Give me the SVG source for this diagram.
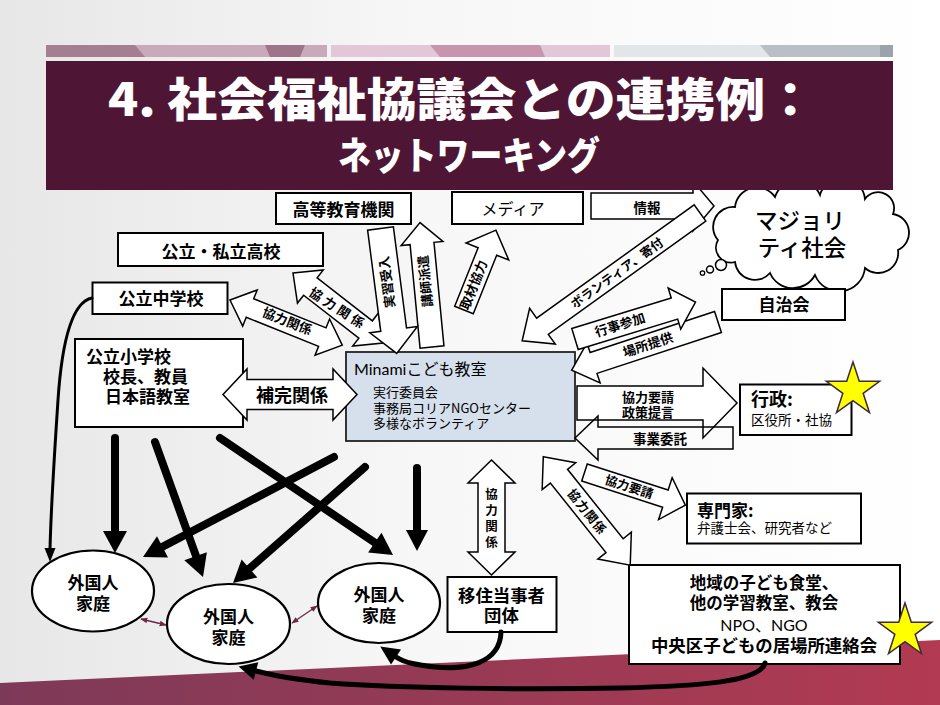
<svg xmlns="http://www.w3.org/2000/svg" width="940" height="705" viewBox="0 0 940 705">
<defs>
<linearGradient id="bg" x1="0" y1="0" x2="1" y2="0">
<stop offset="0" stop-color="#e7e7e7"/><stop offset="0.45" stop-color="#f7f7f7"/><stop offset="1" stop-color="#ffffff"/>
</linearGradient>
<linearGradient id="band" x1="0" y1="0" x2="1" y2="0">
<stop offset="0" stop-color="#7d3a58"/><stop offset="1" stop-color="#b23a52"/>
</linearGradient>
<marker id="sm" viewBox="0 0 10 10" refX="9" refY="5" markerWidth="7" markerHeight="7" markerUnits="userSpaceOnUse" orient="auto-start-reverse">
<path d="M0,1 L10,5 L0,9 z" fill="#6b2744"/>
</marker>
<style>
.t{font-family:"Noto Sans CJK JP","Noto Sans",sans-serif;fill:#000}
.l{font-family:Lato,"Noto Sans CJK JP",sans-serif;fill:#000}
.b{font-weight:bold}
.m{text-anchor:middle}
.box{fill:#fff;stroke:#000;stroke-width:2}
.ba{fill:#fff;stroke:#000;stroke-width:1.5;stroke-linejoin:miter}
.al{font-family:"Noto Sans CJK JP","Noto Sans",sans-serif;font-weight:bold;text-anchor:middle;fill:#000}
.blk line,.blk path{stroke:#000;fill:none;stroke-linecap:round}
.blk polygon{fill:#000}
.sa{stroke:#6b2744;stroke-width:1.3;fill:none}
</style>
</defs>

<g id="background">
<rect width="940" height="705" fill="url(#bg)"/>
<polygon points="0,683 940,640 940,705 0,705" fill="url(#band)"/>
<rect x="46" y="45" width="281" height="12" fill="#c8aab8"/>
<polygon points="46,45 135,45 145,57 46,57" fill="#a47f90"/>
<polygon points="265,45 305,45 300,57 270,57" fill="#9e7489"/>
<rect x="331" y="45" width="279" height="12" fill="#e2c8d6"/>
<polygon points="430,45 540,45 545,57 440,57" fill="#c894ae"/>
<rect x="614" y="45" width="279" height="12" fill="#e3e6e9"/>
<polygon points="760,45 880,45 880,57 770,57" fill="#b8bfc6"/>
<rect x="880" y="45" width="13" height="12" fill="#9aa3ab"/>
</g>

<g id="nodes">
<g id="n-koutou"><rect class="box" x="276" y="193" width="135" height="31"/><text class="t b m" x="343.5" y="216" font-size="17">高等教育機関</text></g>
<g id="n-media"><rect class="box" x="452" y="192" width="131" height="32"/><text class="t m" x="513" y="214.5" font-size="16">メディア</text></g>
<g id="n-koukou"><rect class="box" x="118" y="233" width="205" height="33"/><text class="t b m" x="221" y="257.5" font-size="17">公立・私立高校</text></g>
<g id="n-chuu"><rect class="box" x="92.5" y="282.5" width="135" height="31.5"/><text class="t b m" x="161" y="305" font-size="17">公立中学校</text></g>
<g id="n-shou"><rect class="box" x="75" y="339" width="168" height="88"/>
<text class="t b" font-size="17"><tspan x="86" y="363">公立小学校</tspan><tspan x="103" y="383">校長、教員</tspan><tspan x="105" y="403">日本語教室</tspan></text></g>
<g id="n-minami"><rect x="346" y="352" width="229" height="89" fill="#d6dfec" stroke="#222" stroke-width="1.8"/>
<text class="t" font-size="13"><tspan x="354" y="375" font-size="16"><tspan class="l">Minami</tspan>こども教室</tspan><tspan x="373" y="397">実行委員会</tspan><tspan x="373" y="412.5">事務局コリアNGOセンター</tspan><tspan x="373" y="428">多様なボランティア</tspan></text></g>
<g id="n-cloud">
<path d="M718,240 A20,20 0 0 1 735,207 A22,22 0 0 1 775,197 A24,24 0 0 1 820,195 A23,23 0 0 1 865,199 A16,16 0 0 1 893,214 A19,19 0 0 1 898,250 A20,20 0 0 1 865,268 A26,26 0 0 1 815,275 A25,25 0 0 1 770,273 A20,20 0 0 1 735,262 A15,15 0 0 1 718,240 Z" fill="#fff" stroke="#000" stroke-width="1.8"/>
<circle cx="721" cy="265" r="5.5" fill="#fff" stroke="#000" stroke-width="1.5"/>
<circle cx="710" cy="269.5" r="3.5" fill="#fff" stroke="#000" stroke-width="1.5"/>
<circle cx="702.5" cy="273" r="2.2" fill="#fff" stroke="#000" stroke-width="1.3"/>
<text class="t m" font-size="22.5" font-weight="500"><tspan x="800" y="229">マジョリ</tspan><tspan x="802" y="256">ティ社会</tspan></text></g>
<g id="n-jichi"><rect class="box" x="722" y="289" width="123" height="31"/><text class="t b m" x="784" y="311" font-size="17">自治会</text></g>
<g id="n-gyousei"><rect class="box" x="740" y="384.5" width="111.5" height="50.5"/>
<text class="t"><tspan class="b" x="751" y="406" font-size="18">行政:</tspan><tspan x="751" y="425" font-size="13.5">区役所・社協</tspan></text></g>
<g id="star1"><polygon transform="translate(853,390)" points="0,-28 6.29,-8.66 26.63,-8.65 10.18,3.31 16.46,22.65 0,10.7 -16.46,22.65 -10.18,3.31 -26.63,-8.65 -6.29,-8.66" fill="#ffff00" stroke="#3a2a3a" stroke-width="1.5"/></g>
<g id="n-senmon"><rect class="box" x="687" y="493.5" width="174" height="50"/>
<text class="t"><tspan class="b" x="697" y="516.5" font-size="17">専門家:</tspan><tspan x="697" y="533" font-size="13.5">弁護士会、研究者など</tspan></text></g>
<g id="n-chiiki"><rect class="box" x="629" y="565" width="271" height="99"/>
<text class="t b m" font-size="16.5"><tspan x="764" y="589">地域の子ども食堂、</tspan><tspan x="764" y="609">他の学習教室、教会</tspan><tspan class="l" x="764" y="631" font-size="16" font-weight="normal">NPO、NGO</tspan><tspan x="764" y="652" font-size="17.4">中央区子どもの居場所連絡会</tspan></text></g>
<g id="star2"><polygon transform="translate(905,631)" points="0,-28 6.29,-8.66 26.63,-8.65 10.18,3.31 16.46,22.65 0,10.7 -16.46,22.65 -10.18,3.31 -26.63,-8.65 -6.29,-8.66" fill="#ffff00" stroke="#3a2a3a" stroke-width="1.5"/></g>
<g id="n-ijuu"><rect class="box" x="447.5" y="577" width="109" height="55"/>
<text class="t b m" font-size="17.4"><tspan x="501.5" y="602">移住当事者</tspan><tspan x="501.5" y="622">団体</tspan></text></g>
<g id="n-family1"><ellipse cx="93" cy="591" rx="61" ry="40.5" fill="#fff" stroke="#000" stroke-width="2.2"/>
<text class="t b m" font-size="17"><tspan x="93" y="589">外国人</tspan><tspan x="93" y="610">家庭</tspan></text></g>
<g id="n-family2"><ellipse cx="228.5" cy="624" rx="61.5" ry="40" fill="#fff" stroke="#000" stroke-width="2.2"/>
<text class="t b m" font-size="17"><tspan x="228.5" y="622.5">外国人</tspan><tspan x="228.5" y="643.5">家庭</tspan></text></g>
<g id="n-family3"><ellipse cx="379" cy="603" rx="61" ry="40" fill="#fff" stroke="#000" stroke-width="2.2"/>
<text class="t b m" font-size="17"><tspan x="379" y="601">外国人</tspan><tspan x="379" y="622">家庭</tspan></text></g>
</g>

<g id="connectors" font-size="13">
<g id="c-jouhou"><polygon class="ba" transform="translate(591,206)" points="0,-13 102,-13 102,-25 123,0 102,25 102,13 0,13"/><text class="al" x="647" y="213" font-size="13.5">情報</text></g>
<g id="c-vol"><polygon class="ba" transform="translate(700,213) rotate(144.3)" points="0,-10 194,-10 194,-22 219,0 194,22 194,10 0,10"/><text class="al" transform="translate(617,273) rotate(-35.7)" y="4.5" font-size="12.5">ボランティア、寄付</text></g>
<g id="c-basho"><polygon class="ba" transform="translate(718,322) rotate(161.8)" points="0,-11 131,-11 131,-21 154,0 131,21 131,11 0,11"/><text class="al" transform="translate(648,345) rotate(-18.2)" y="4.5">場所提供</text></g>
<g id="c-gyouji"><polygon class="ba" transform="translate(575,339) rotate(-17)" points="0,-11 104,-11 104,-21.5 126,0 104,21.5 104,11 0,11"/><text class="al" transform="translate(620,325) rotate(-17)" y="4.5">行事参加</text></g>
<g id="c-youshei"><polygon class="ba" transform="translate(577,403)" points="0,-17 126,-17 126,-35 160,0 126,35 126,17 0,17"/><text class="al"><tspan x="648" y="401.5">協力要請</tspan><tspan x="648" y="417">政策提言</tspan></text></g>
<g id="c-itaku"><polygon class="ba" style="fill:none" transform="translate(733,438) rotate(180)" points="0,-11 135,-11 135,-22 158,0 135,22 135,11 0,11"/><text class="al" x="660" y="443.5" font-size="13.5">事業委託</text></g>
<g id="c-senmon"><polygon class="ba" transform="translate(584.5,472.5) rotate(17.9)" points="0,-9 85,-9 85,-22 106,0 85,22 85,9 0,9"/><text class="al" transform="translate(629,487) rotate(17.9)" y="4.3" font-size="12.5">協力要請</text></g>
<g id="c-chiiki"><polygon class="ba" transform="translate(543.3,456.7) rotate(51.3)" points="0,0 25,-21.5 25,-11 114,-11 114,-21.5 139,0 114,21.5 114,11 25,11 25,21.5"/><text class="al" transform="translate(587,512) rotate(51.3)" y="4.3" font-size="12.5" letter-spacing="1">協力関係</text></g>
<g id="c-ijuu"><polygon class="ba" transform="translate(491.5,460) rotate(90)" points="0,0 23,-23.5 23,-13.5 92,-13.5 92,-23.5 115,0 92,23.5 92,13.5 23,13.5 23,23.5"/>
<text class="al" font-size="12.5"><tspan x="491.5" y="499">協</tspan><tspan x="491.5" y="515">力</tspan><tspan x="491.5" y="531">関</tspan><tspan x="491.5" y="547">係</tspan></text></g>
<g id="c-hokan"><polygon class="ba" transform="translate(223,394.5)" points="0,0 24,-25.5 24,-15 110,-15 110,-25.5 134,0 110,25.5 110,15 24,15 24,25.5"/><text class="al" x="292" y="401.5" font-size="18">補完関係</text></g>
<g id="c-chuu"><polygon class="ba" transform="translate(230,300) rotate(21.9)" points="0,0 21.5,-19.5 21.5,-10 99.5,-10 99.5,-19.5 121,0 99.5,19.5 99.5,10 21.5,10 21.5,19.5"/><text class="al" transform="translate(287,321.5) rotate(21.9)" y="4.3">協力関係</text></g>
<g id="c-koukou"><polygon class="ba" transform="translate(293,273) rotate(37.9)" points="0,0 22,-21 22,-11 92,-11 92,-21 114,0 92,21 92,11 22,11 22,21"/><text class="al" transform="translate(338,309) rotate(33)" y="4.3" letter-spacing="3.5">協力関係</text></g>
<g id="c-koushi"><polygon class="ba" transform="translate(432,347) rotate(-95.5)" points="0,-12 104,-12 104,-21 125,0 104,21 104,12 0,12"/><text class="al" transform="translate(425.6,281) rotate(-95.5)" y="4.3">講師派遣</text></g>
<g id="c-jisshuu"><polygon class="ba" transform="translate(380.5,228.5) rotate(82.6)" points="0,-13 102,-13 102,-24 126,0 102,24 102,13 0,13"/><text class="al" transform="translate(387.4,282) rotate(-97.4)" y="4.3">実習受入</text></g>
<g id="c-shuzai"><polygon class="ba" transform="translate(464,310) rotate(-68.2)" points="0,-10 63,-10 63,-23 86,0 63,23 63,10 0,10"/><text class="al" transform="translate(474,285) rotate(-68.2)" y="4.3">取材協力</text></g>

<g class="blk" id="c-black">
<line x1="115" y1="438" x2="115" y2="533" stroke-width="8"/><polygon points="103,531 127,531 115,553"/>
<line x1="155" y1="442" x2="196" y2="556" stroke-width="8"/><polygon points="184.3,560.3 206.9,552.3 203,577"/>
<line x1="220" y1="438" x2="375" y2="542.7" stroke-width="8"/><polygon points="368.1,552.6 381.5,532.8 393,555"/>
<line x1="334" y1="457" x2="162.5" y2="546.8" stroke-width="8"/><polygon points="157,536.2 168,557.4 143,557"/>
<line x1="365" y1="467" x2="249.5" y2="568.5" stroke-width="8"/><polygon points="241.6,559.5 257.4,577.5 233,583"/>
<line x1="417" y1="468" x2="417" y2="532" stroke-width="8"/><polygon points="406,530 428,530 417,551"/>
<path d="M92,298 C72,302 62,340 58,400 C54,460 51,510 50,549" stroke-width="3"/><polygon points="44.5,548 55.5,548 50,562"/>
<path d="M501,632 C500,664 465,670 435,667 C418,665 405,663 396,657" stroke-width="5"/><polygon points="401,649.5 391,664.5 380.2,646.5"/>
<path d="M765,663 C760,682 700,686 620,688 C520,690 400,688 330,683 C300,680 275,676 256,671" stroke-width="5"/><polygon points="258.3,662.3 253.7,679.7 238.6,666.4"/>
</g>
<line class="sa" x1="141" y1="619" x2="166" y2="625" marker-start="url(#sm)" marker-end="url(#sm)"/>
<line class="sa" x1="292" y1="623" x2="317" y2="606" marker-start="url(#sm)" marker-end="url(#sm)"/>
</g>

<g id="title">
<rect x="46" y="61" width="847" height="129" fill="#4e1634"/>
<text class="t m" x="461.5" y="116" font-size="46" font-weight="900" style="fill:#fff" textLength="707" lengthAdjust="spacingAndGlyphs">4. 社会福祉協議会との連携例：</text>
<text class="t m" x="469" y="169" font-size="38" font-weight="900" style="fill:#fff" textLength="262" lengthAdjust="spacingAndGlyphs">ネットワーキング</text>
</g>
</svg>
